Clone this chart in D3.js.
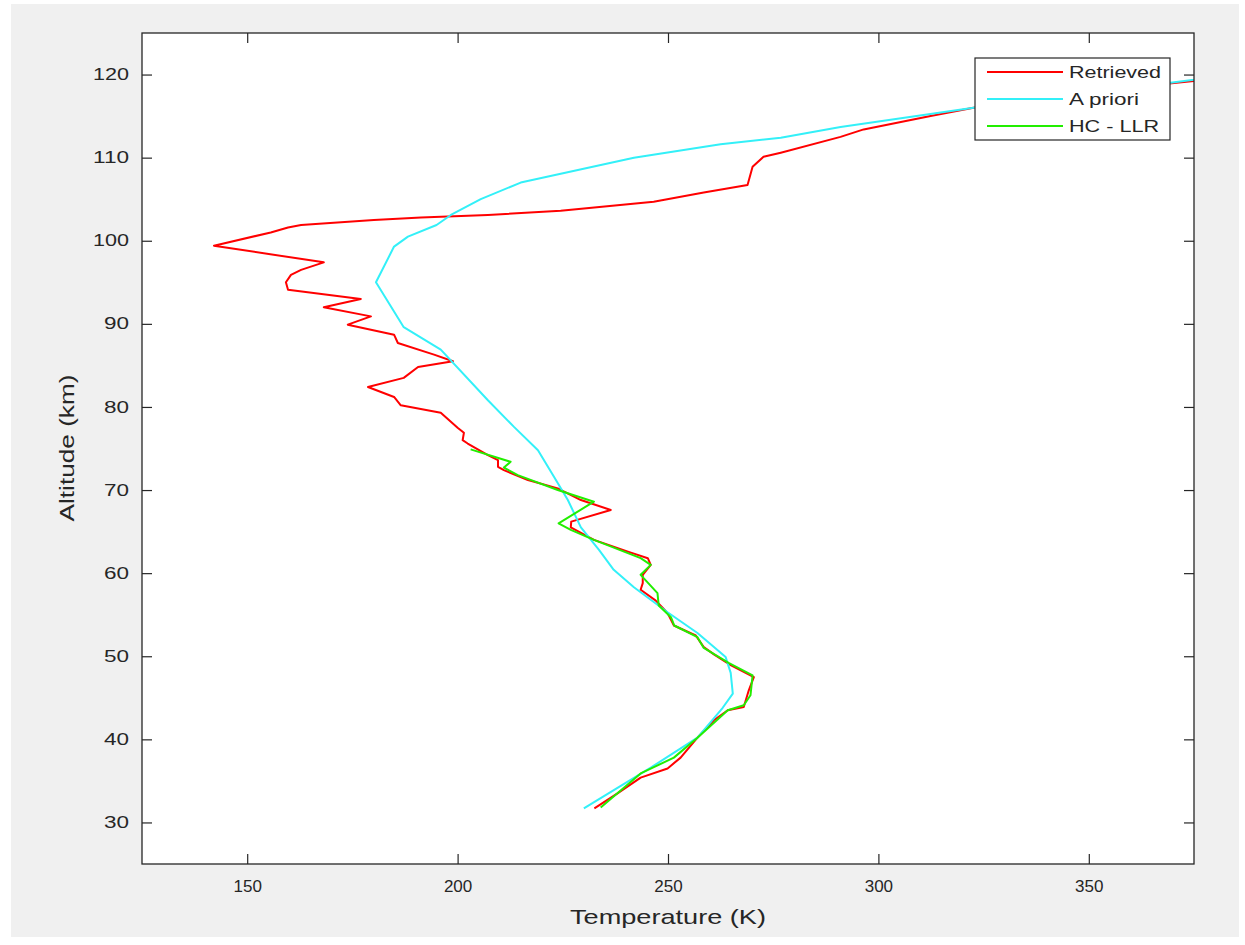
<!DOCTYPE html>
<html>
<head>
<meta charset="utf-8">
<script src="https://cdn.jsdelivr.net/npm/d3@7"></script>
<style>
  html, body { margin: 0; padding: 0; background: #ffffff; }
  svg { display: block; }
  text { font-family: "Liberation Sans", Arial, sans-serif; fill: #262626; }
</style>
</head>
<body>
<svg id="chart" width="1245" height="945"></svg>
<script>
// ---------------- data ----------------
const retrievedAlt = [31.7,33.5,35.4,36.5,37.8,40.2,42.3,43.5,43.9,45.9,47.5,48.9,50.2,51.1,52.5,53.7,55.2,56.7,58.0,58.8,59.8,61.0,61.8,62.5,64.0,65.5,66.2,67.6,68.8,70.2,71.2,72.4,72.8,73.6,74.2,75.6,76.0,76.9,77.5,79.3,80.2,81.2,82.4,83.5,84.8,85.5,86.3,87.7,88.7,89.9,90.9,92.0,93.0,94.1,95.0,95.9,96.5,97.4,99.4,101.0,101.6,101.9,102.5,102.8,103.1,103.6,104.7,105.8,106.7,108.9,110.1,110.6,112.5,113.4,115.0,116.0,117.2,118.7,119.5];
const retrievedT   = [232.5,238,243.5,249.9,253,257,260.9,264.2,268,269.2,270.4,265,261,258.5,256.6,251.4,249.9,247.1,243.5,244,244,245.9,245.2,241,232.4,226.9,227,236.4,229.3,223.8,216.7,211,209.6,209.6,207.2,202.4,201.2,201.5,200,196,186.5,184.9,178.7,187.2,190.6,198.9,194.4,185.8,184.9,173.9,179.4,168.2,177,159.7,159.2,160.4,162.8,168.2,142.1,155.6,159.7,162.8,180.1,191.3,207.2,224.5,246.6,258.5,268.9,270.1,272.7,276.8,291,296.5,312.4,322.6,345,365,380];

const aprioriAlt = [31.7,36.6,40.2,43.8,45.5,48.0,49.9,52.8,55.3,58.3,60.4,62.8,65.5,68.8,71.6,74.8,77.6,80.8,86.9,89.6,95.0,99.3,100.5,101.9,103.1,105.0,107.0,110.0,111.6,112.4,113.7,116.0,119.7];
const aprioriT   = [230,245.9,257,263,265.4,264.9,263.7,257,249.9,241.9,237.1,233.6,229.3,226.2,222.9,219.1,213.4,207.2,196,187.2,180.6,184.9,188.2,195,198.4,205.5,215,241.9,262.5,276.8,291,322.6,380];

const hcAlt = [74.9,73.4,72.7,71.8,70.0,68.6,66.0,65.2,64.0,61.8,61.0,59.8,57.6,56.1,54.7,53.7,52.3,51.0,49.2,47.7,45.3,44.1,43.5,40.2,37.8,35.9,31.8];
const hcT   = [203.1,212.6,211,214.3,223.8,232.4,224,226.9,232.4,243.5,245.9,243.5,247.5,247.8,250.7,251.5,257,258.5,264.4,270.1,269.6,268,264.2,257,251.4,243.5,234];

const xTicks = [150,200,250,300,350];
const yTicks = [30,40,50,60,70,80,90,100,110,120];
const seriesNames = ["Retrieved","A priori","HC - LLR"];
const seriesColors = ["#ff0000","#33f0f8","#22ee00"];

// ---------------- layout ----------------
const svg = d3.select("#chart");
const L = 142, R = 1194, T = 33, B = 864;
const x = d3.scaleLinear().domain([125,375]).range([L,R]);
const y = d3.scaleLinear().domain([25,125]).range([B,T]);

// figure background (gray panel with thin white margin)
svg.append("rect").attr("x",11).attr("y",4).attr("width",1228).attr("height",933).attr("fill","#f0f0f0");
svg.append("rect").attr("x",L).attr("y",T).attr("width",R-L).attr("height",B-T).attr("fill","#fff");

svg.append("defs").append("clipPath").attr("id","clip")
  .append("rect").attr("x",L).attr("y",T).attr("width",R-L).attr("height",B-T);

const axisColor = "#262626";
function styleAxis(g){
  g.select(".domain").remove();
  g.selectAll(".tick line").attr("stroke",axisColor).attr("stroke-width",1.2);
}

const gx = svg.append("g").attr("transform",`translate(0,${B})`)
  .call(d3.axisBottom(x).tickValues(xTicks).tickSize(-10).tickPadding(16).tickFormat(d3.format("d")));
styleAxis(gx);
gx.selectAll(".tick text").attr("font-size",17).attr("fill",axisColor)
  .attr("font-family","Liberation Sans, Arial, sans-serif");

const gxt = svg.append("g").attr("transform",`translate(0,${T})`)
  .call(d3.axisTop(x).tickValues(xTicks).tickSize(-10).tickFormat(""));
styleAxis(gxt);

const gy = svg.append("g").attr("transform",`translate(${L},0)`)
  .call(d3.axisLeft(y).tickValues(yTicks).tickSize(-10).tickPadding(13).tickFormat(d3.format("d")));
styleAxis(gy);
gy.selectAll(".tick text").attr("font-size",16).attr("fill",axisColor)
  .attr("font-family","DejaVu Sans, Verdana, sans-serif")
  .attr("textLength", d => String(d).length === 3 ? 36 : 25)
  .attr("lengthAdjust","spacingAndGlyphs");

const gyr = svg.append("g").attr("transform",`translate(${R},0)`)
  .call(d3.axisRight(y).tickValues(yTicks).tickSize(-10).tickFormat(""));
styleAxis(gyr);

// ---------------- lines ----------------
const line = d3.line().x(d => x(d[1])).y(d => y(d[0]));
const series = [
  d3.zip(retrievedAlt, retrievedT),
  d3.zip(aprioriAlt, aprioriT),
  d3.zip(hcAlt, hcT)
];
const gl = svg.append("g").attr("clip-path","url(#clip)");
series.forEach((s,i) => {
  gl.append("path").datum(s).attr("d",line)
    .attr("fill","none").attr("stroke",seriesColors[i]).attr("stroke-width",2)
    .attr("stroke-linejoin","round");
});

// frame
svg.append("rect").attr("x",L).attr("y",T).attr("width",R-L).attr("height",B-T)
  .attr("fill","none").attr("stroke",axisColor).attr("stroke-width",1.3);

// axis labels
svg.append("text").attr("x",(L+R)/2-0).attr("y",924).attr("text-anchor","middle")
  .attr("font-size",21).attr("textLength",196).attr("lengthAdjust","spacingAndGlyphs")
  .text("Temperature (K)");
svg.append("text").attr("transform",`translate(74,${448}) rotate(-90)`).attr("text-anchor","middle")
  .attr("font-size",21).attr("textLength",147).attr("lengthAdjust","spacingAndGlyphs")
  .text("Altitude (km)");

// ---------------- legend ----------------
const lg = svg.append("g");
lg.append("rect").attr("x",975).attr("y",58).attr("width",195).attr("height",82)
  .attr("fill","#fff").attr("stroke",axisColor).attr("stroke-width",1.2);
const legendWidths = [92,70,90];
seriesNames.forEach((n,i) => {
  const yy = 72 + i*27;
  lg.append("line").attr("x1",987).attr("x2",1063).attr("y1",yy).attr("y2",yy)
    .attr("stroke",seriesColors[i]).attr("stroke-width",2);
  lg.append("text").attr("x",1069).attr("y",yy).attr("dy","0.35em")
    .attr("font-size",16).attr("textLength",legendWidths[i]).attr("lengthAdjust","spacingAndGlyphs")
    .text(n);
});
</script>
</body>
</html>
